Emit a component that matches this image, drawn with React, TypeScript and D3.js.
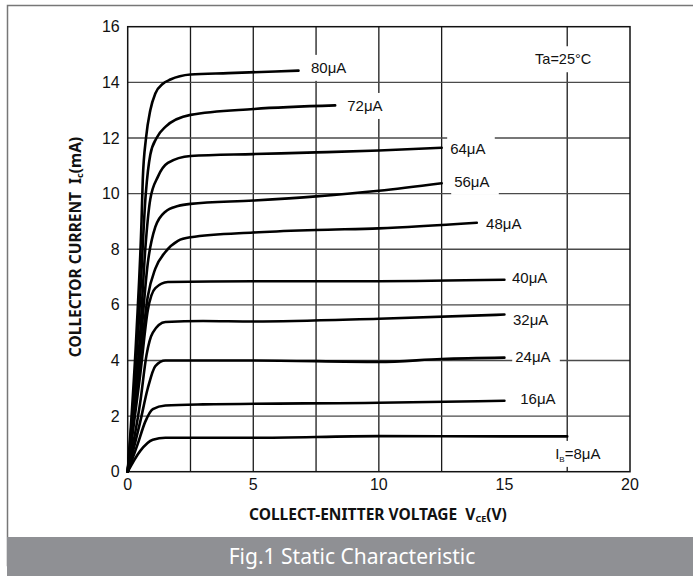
import React from 'react';
import * as d3 from 'd3';

// Ic vs Vce curves, one per base current: [Vce (V), Ic (mA)]
const ib8 = [[0, 0], [0.5, 0.75], [1, 1.15], [1.5, 1.22], [5, 1.22], [10, 1.28], [15, 1.27], [17.5, 1.27]];
const ib16 = [[0, 0], [0.4, 1.0], [0.7, 1.8], [1, 2.25], [1.5, 2.38], [3, 2.42], [10, 2.48], [15, 2.55]];
const ib24 = [[0, 0], [0.5, 1.8], [0.8, 3.0], [1.1, 3.8], [1.5, 4.0], [5, 4.0], [10, 3.95], [12.5, 4.05], [15, 4.1]];
const ib32 = [[0, 0], [0.5, 2.5], [0.75, 4.2], [1, 5.0], [1.5, 5.38], [3, 5.42], [5, 5.4], [10, 5.5], [15, 5.65]];
const ib40 = [[0, 0], [0.5, 3.5], [0.8, 5.8], [1.1, 6.6], [1.6, 6.82], [5, 6.85], [10, 6.85], [15, 6.9]];
const ib48 = [[0, 0], [0.5, 4.0], [0.8, 6.3], [1.1, 7.3], [1.5, 7.9], [2, 8.3], [2.5, 8.43], [5, 8.6], [7.5, 8.69], [10, 8.75], [13.9, 8.95]];
const ib56 = [[0, 0], [0.5, 4.5], [0.8, 7.5], [1.1, 8.8], [1.5, 9.35], [2, 9.55], [2.5, 9.63], [5, 9.75], [7.5, 9.9], [10, 10.1], [12.5, 10.37]];
const ib64 = [[0, 0], [0.5, 5.0], [0.7, 8.0], [0.9, 9.8], [1.2, 10.6], [1.6, 11.1], [2.5, 11.35], [5, 11.42], [7.5, 11.48], [10, 11.55], [12.5, 11.65]];
const ib72 = [[0, 0], [0.45, 5.5], [0.72, 10.0], [0.9, 11.4], [1.15, 12.0], [1.5, 12.4], [2.5, 12.83], [5, 13.04], [8.26, 13.17]];
const ib80 = [[0, 0], [0.35, 5.0], [0.55, 9.0], [0.6, 10.5], [0.73, 12.0], [0.9, 13.0], [1.1, 13.6], [1.4, 13.95], [1.7, 14.1], [2.5, 14.28], [4, 14.33], [6.8, 14.42]];

const curves = [ib8, ib16, ib24, ib32, ib40, ib48, ib56, ib64, ib72, ib80];
const curveLabels = ['8μA', '16μA', '24μA', '32μA', '40μA', '48μA', '56μA', '64μA', '72μA', '80μA'];
// label anchor in data coords (left edge, vertical middle)
const labelAt = [[17.02, 0.64], [15.63, 2.62], [15.43, 4.14], [15.34, 5.48], [15.3, 6.97], [14.27, 8.91], [13.0, 10.42], [12.84, 11.6], [8.74, 13.15], [7.3, 14.52]];

const xTicks = [0, 5, 10, 15, 20];
const yTicks = [0, 2, 4, 6, 8, 10, 12, 14, 16];
const xGrid = [2.5, 5, 7.5, 10, 12.5, 17.5];
const yGrid = [2, 4, 6, 8, 10, 12, 14];

const W = 693;
const H = 576;
const margin = { left: 127.7, right: 63, top: 26.7, bottom: 104.3 };

export default function App() {
  const x = d3.scaleLinear().domain([0, 20]).range([margin.left, W - margin.right]);
  const y = d3.scaleLinear().domain([0, 16]).range([H - margin.bottom, margin.top]);
  const line = d3
    .line<number[]>()
    .x((d) => x(d[0]))
    .y((d) => y(d[1]))
    .curve(d3.curveMonotoneX);

  const labelFont = '"Liberation Sans", Arial, sans-serif';
  const titleFont = '"Noto Sans", "Open Sans", sans-serif';

  const box = (lx: number, ly: number, w: number, key: string) => (
    <rect key={key} x={lx - 3} y={ly - 13} width={w + 8} height={26} fill="#fff" />
  );

  return (
    <div style={{ position: 'fixed', left: 0, top: 0 }}>
      <svg width={W} height={H} style={{ display: 'block', background: '#fff' }}>
        {/* outer frame */}
        <rect x={7.5} y={5.5} width={700} height={560} fill="none" stroke="#777" strokeWidth={1.5} />

        {/* grid */}
        {xGrid.map((v) => (
          <line key={'gx' + v} x1={x(v)} x2={x(v)} y1={y(0)} y2={y(16)} stroke="#1a1a1a" strokeWidth={1.3} />
        ))}
        {yGrid.map((v) => (
          <line key={'gy' + v} x1={x(0)} x2={x(20)} y1={y(v)} y2={y(v)} stroke="#4a4a4a" strokeWidth={1.4} />
        ))}

        {/* label backgrounds break the grid */}
        {curveLabels.map((t, i) => box(x(labelAt[i][0]), y(labelAt[i][1]), t.length * 9.4 + 2, 'b' + t))}
        {box(x(16.22), y(14.83), 58, 'bta')}

        {/* plot border */}
        <rect x={x(0)} y={y(16)} width={x(20) - x(0)} height={y(0) - y(16)} fill="none" stroke="#111" strokeWidth={1.5} />

        {/* curves */}
        {curves.map((c, i) => (
          <path key={'c' + i} d={line(c) || ''} fill="none" stroke="#000" strokeWidth={2.6} strokeLinecap="round" />
        ))}

        {/* curve labels */}
        {curveLabels.map((t, i) =>
          i === 0 ? (
            <text key={'l' + t} x={x(labelAt[i][0])} y={y(labelAt[i][1])} dy="0.35em" fontFamily={labelFont} fontSize={15} fill="#111">
              I<tspan fontSize={8} dy="3">B</tspan>
              <tspan dy="-3">=8μA</tspan>
            </text>
          ) : (
            <text key={'l' + t} x={x(labelAt[i][0])} y={y(labelAt[i][1])} dy="0.35em" fontFamily={labelFont} fontSize={15} fill="#111">
              {t}
            </text>
          )
        )}
        <text x={x(16.22)} y={y(14.83)} dy="0.35em" fontFamily={labelFont} fontSize={14.5} fill="#111">
          Ta=25°C
        </text>

        {/* ticks */}
        {yTicks.map((v) => (
          <text key={'yt' + v} x={x(0) - 8} y={y(v)} dy="0.35em" textAnchor="end" fontFamily={labelFont} fontSize={16} fill="#111">
            {v}
          </text>
        ))}
        {xTicks.map((v) => (
          <text key={'xt' + v} x={x(v)} y={y(0) + 13} dy="0.35em" textAnchor="middle" fontFamily={labelFont} fontSize={16} fill="#111">
            {v}
          </text>
        ))}

        {/* axis titles */}
        <text x={249} y={520} fontFamily={titleFont} fontWeight={700} fontSize={15.5} fill="#111">
          COLLECT-ENITTER VOLTAGE{'\u00a0\u00a0'}V<tspan fontSize={9} dy="2">CE</tspan>
          <tspan dy="-2">(V)</tspan>
        </text>
        <text
          transform={`translate(81,${247}) rotate(-90)`}
          textAnchor="middle"
          fontFamily={titleFont}
          fontWeight={700}
          fontSize={15.5}
          fill="#111"
        >
          COLLECTOR CURRENT{'\u00a0\u00a0'}I<tspan fontSize={9} dy="2">c</tspan>
          <tspan dy="-2">(mA)</tspan>
        </text>

        {/* caption bar */}
        <rect x={7} y={537} width={W - 7} height={H - 537} fill="#8f9094" />
        <text x={352} y={557} dy="0.35em" textAnchor="middle" fontFamily={titleFont} fontSize={21} fill="#fff">
          Fig.1 Static Characteristic
        </text>
      </svg>
    </div>
  );
}
